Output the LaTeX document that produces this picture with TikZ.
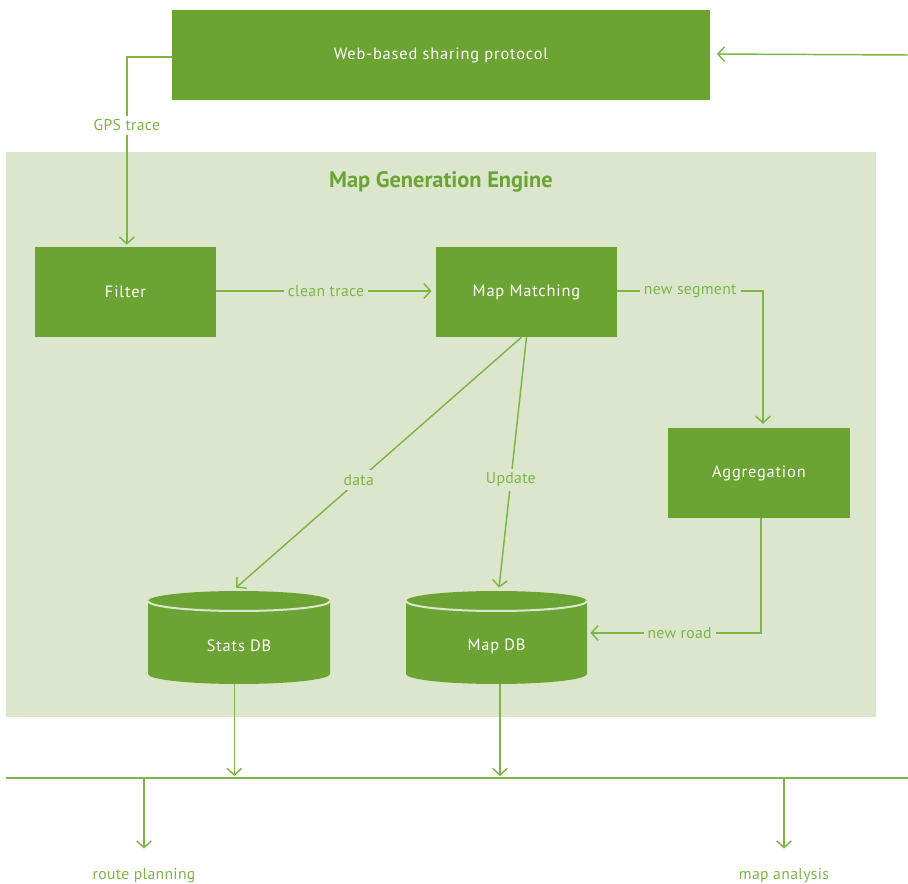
\documentclass[tikz,border=0pt]{standalone}
\usepackage{fontspec}
\setmainfont{PT Sans}
\usetikzlibrary{arrows.meta}

\definecolor{boxgreen}{HTML}{6CA434}
\definecolor{enginebg}{HTML}{DCE6CC}
\definecolor{linegreen}{HTML}{7DB547}

\tikzset{
  procbox/.style={fill=boxgreen, text=white, inner sep=0pt,
    minimum width=136pt, minimum height=67.5pt,
    font=\fontsize{12.3}{14}\selectfont\addfontfeature{LetterSpace=5}},
  dbnode/.style={inner sep=0pt, minimum width=136.5pt, minimum height=57pt,
    text=white, font=\fontsize{12.3}{14}\selectfont\addfontfeature{LetterSpace=5}},
  flow/.style={draw=linegreen, line width=1.1pt,
    -{Straight Barb[length=5pt,width=11pt,line width=1.1pt]}},
  lbl/.style={text=linegreen, fill=enginebg, inner sep=3pt,
    font=\fontsize{11.8}{14}\selectfont\addfontfeature{LetterSpace=2}},
  outlbl/.style={lbl, fill=white},
}

\begin{document}
\begin{tikzpicture}[x=0.75pt, y=-0.75pt]
\useasboundingbox (0,0) rectangle (908,884);

% Engine background.
\fill[enginebg] (6,152) rectangle (876,717);
\node[text=boxgreen, font=\fontsize{16.8}{20}\selectfont\bfseries] (title) at (441,182) {Map Generation Engine};

% Boxes.
\node[procbox, minimum width=403.5pt] (web) at (441,55) {Web-based sharing protocol};
\node[procbox] (filter) at (125.5,292) {Filter};
\node[procbox] (mm) at (526.5,292) {Map Matching};
\node[procbox] (agg) at (759,473) {Aggregation};

% Databases.
\fill[boxgreen] (148,601) -- (148,674) arc[start angle=180, end angle=0, x radius=91, y radius=10] -- (330,601) -- cycle;
\fill[boxgreen] (239,601) ellipse[x radius=91, y radius=10];
\draw[enginebg, line width=1.5pt] (148,601) arc[start angle=180, end angle=0, x radius=91, y radius=10];
\node[dbnode] (sdb) at (239,646) {Stats DB};

\fill[boxgreen] (406,601) -- (406,674) arc[start angle=180, end angle=0, x radius=90.5, y radius=10] -- (587,601) -- cycle;
\fill[boxgreen] (496.5,601) ellipse[x radius=90.5, y radius=10];
\draw[enginebg, line width=1.5pt] (406,601) arc[start angle=180, end angle=0, x radius=90.5, y radius=10];
\node[dbnode] (mdb) at (496.5,646) {Map DB};

% Flows.
\coordinate (feed) at (908,55);
\draw[flow, shorten >=5pt] (feed) -- ([yshift=0.75pt]web.east);
\draw[flow, shorten >=1.5pt] ([yshift=-1.5pt]web.west) -| ([xshift=1pt]filter.north)
  node[outlbl, pos=0.68] {GPS trace};
\draw[flow, shorten >=3pt] ([yshift=0.75pt]filter.east) -- ([yshift=0.75pt]mm.west)
  node[lbl, midway] {clean trace};
\draw[flow, shorten >=3pt] ([yshift=0.75pt]mm.east) -| ([xshift=3pt]agg.north)
  node[lbl, pos=0.25] {new segment};
\draw[flow] ([xshift=-3.75pt]mm.south) -- ([xshift=-2.25pt, yshift=15pt]sdb.north)
  node[lbl, pos=0.57] {data};
\draw[flow] (mm.south) -- ([xshift=1.9pt, yshift=15pt]mdb.north)
  node[lbl, pos=0.57] {Update};
\draw[flow, shorten >=2pt] ([xshift=1.5pt]agg.south) |- ([yshift=9.75pt]mdb.east)
  node[lbl, pos=0.735] {new road};

% Output bus.
\coordinate (busl) at (6,778);
\coordinate (busr) at (908,778);
\draw[linegreen, line width=1.5pt] (busl) -- (busr);
\draw[flow, shorten >=1.5pt] ([xshift=-3.5pt]sdb.south) -- ([xshift=-3.5pt]sdb.south |- busl);
\draw[flow, shorten >=1.5pt] ([xshift=2.6pt]mdb.south) -- ([xshift=2.6pt]mdb.south |- busl);

\node[outlbl, inner sep=0pt] (rp) at (144,876) {route planning};
\node[outlbl, inner sep=0pt] (ma) at (784,876) {map analysis};
\draw[flow] (rp |- busl) -- ([yshift=15pt]rp.north);
\draw[flow] (ma |- busl) -- ([yshift=15pt]ma.north);
\end{tikzpicture}
\end{document}
